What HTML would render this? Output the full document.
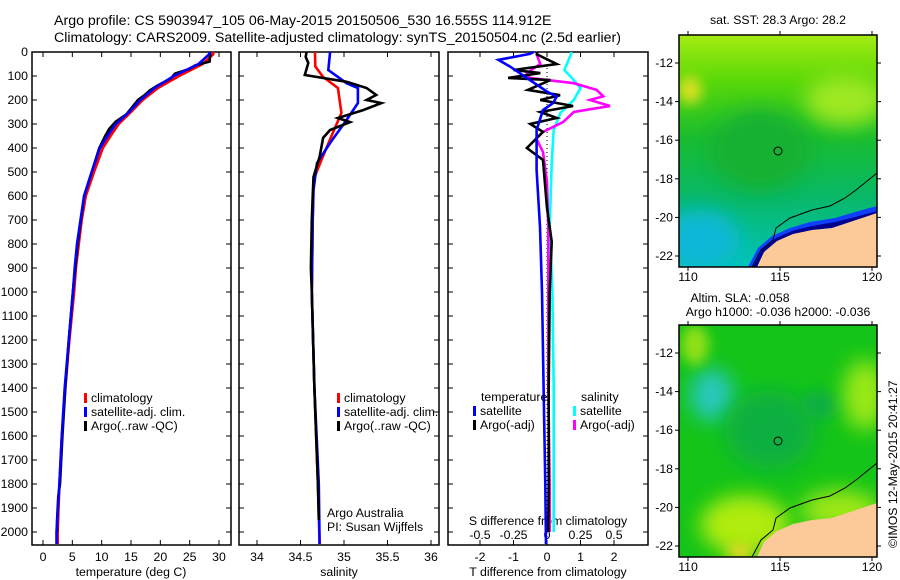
<!DOCTYPE html>
<html><head><meta charset="utf-8">
<style>
body{margin:0;background:#fff;}
svg{display:block;font-family:"Liberation Sans",sans-serif;}
text{font-size:12.3px;fill:#000;}
</style></head>
<body>
<svg id="fig" width="900" height="580" viewBox="0 0 900 580">
<defs>
<filter id="blur6" x="-50%" y="-50%" width="200%" height="200%"><feGaussianBlur stdDeviation="6"/></filter>
<filter id="blur10" x="-50%" y="-50%" width="200%" height="200%"><feGaussianBlur stdDeviation="10"/></filter>
<linearGradient id="sstg" x1="0" y1="0" x2="0" y2="1">
<stop offset="0" stop-color="#a6ec12"/><stop offset="0.2" stop-color="#58d808"/>
<stop offset="0.45" stop-color="#18bc30"/><stop offset="0.7" stop-color="#08b868"/>
<stop offset="1" stop-color="#00c4b8"/></linearGradient>
<clipPath id="clipm1"><rect x="679" y="35" width="198" height="232"/></clipPath>
<clipPath id="clipm2"><rect x="679" y="325" width="198" height="232"/></clipPath>
</defs>
<text x="54" y="25" style="font-size:14.2px">Argo profile: CS 5903947_105 06-May-2015 20150506_530 16.555S 114.912E</text>
<text x="54" y="42" style="font-size:14.2px">Climatology: CARS2009. Satellite-adjusted climatology: synTS_20150504.nc (2.5d earlier)</text>
<g id="p1"></g>
<g id="p2"></g>
<g id="p3"></g>
<g id="m1">
<g clip-path="url(#clipm1)">
<rect x="679" y="35" width="198" height="232" fill="url(#sstg)"/>
<ellipse cx="700" cy="240" rx="40" ry="30" fill="#10b8d8" filter="url(#blur10)"/>
<ellipse cx="845" cy="100" rx="40" ry="25" fill="#9ee820" filter="url(#blur10)"/>
<ellipse cx="690" cy="90" rx="12" ry="14" fill="#d8e020" filter="url(#blur6)"/>
<ellipse cx="760" cy="150" rx="50" ry="40" fill="#14b030" filter="url(#blur10)"/>
<polygon points="748,267 758,248 772,236 790,228 810,222 835,218 855,212 877,206 877,267" fill="#1040ff"/>
<polygon points="753,267 762,250 776,238 792,231 812,226 835,222 855,217 877,211 877,267" fill="#000090"/>
<polygon points="757,267 764,252 777,241 793,234 812,230 832,228 850,222 877,213 877,267" fill="#fcca98"/>
<polyline points="752,267 761,250 773,240 776,228 790,218 812,210 830,206 845,198 856,190 877,173" fill="none" stroke="#000" stroke-width="1"/>
<circle cx="778" cy="151" r="4" fill="none" stroke="#000" stroke-width="1"/>
</g>
<rect x="679" y="35" width="198" height="232" fill="none" stroke="#000" stroke-width="1.5"/>
<text x="778" y="24" text-anchor="middle">sat. SST: 28.3 Argo: 28.2</text>
</g>
<g id="m2">
<g clip-path="url(#clipm2)">
<rect x="679" y="325" width="198" height="232" fill="#14c418"/>
<ellipse cx="712" cy="395" rx="22" ry="26" fill="#28c8c0" filter="url(#blur10)"/>
<ellipse cx="770" cy="430" rx="45" ry="40" fill="#10b040" filter="url(#blur10)"/>
<ellipse cx="820" cy="405" rx="20" ry="15" fill="#10b040" filter="url(#blur6)"/>
<ellipse cx="865" cy="395" rx="22" ry="35" fill="#9ae818" filter="url(#blur10)"/>
<ellipse cx="695" cy="345" rx="14" ry="20" fill="#90e018" filter="url(#blur6)"/>
<ellipse cx="745" cy="525" rx="45" ry="30" fill="#b0ec10" filter="url(#blur10)"/>
<ellipse cx="740" cy="552" rx="14" ry="8" fill="#e8d820" filter="url(#blur6)"/>
<ellipse cx="840" cy="510" rx="40" ry="20" fill="#a0e818" filter="url(#blur10)"/>
<polygon points="757,557 764,542 777,531 793,524 812,520 832,518 850,512 877,503 877,557" fill="#fcca98"/>
<polyline points="752,557 761,540 773,530 776,518 790,508 812,500 830,496 845,488 856,480 877,463" fill="none" stroke="#000" stroke-width="1"/>
<circle cx="778" cy="441" r="4" fill="none" stroke="#000" stroke-width="1"/>
</g>
<rect x="679" y="325" width="198" height="232" fill="none" stroke="#000" stroke-width="1.5"/>
<text x="740" y="302" text-anchor="middle">Altim. SLA: -0.058</text>
<text x="778" y="316" text-anchor="middle">Argo h1000: -0.036 h2000: -0.036</text>
</g>
<text transform="translate(897,548) rotate(-90)">©IMOS 12-May-2015 20:41:27</text>
</svg>
<script>
var NS="http://www.w3.org/2000/svg";
// ---- data ----
var tDepthClim=[0,10,50,100,150,200,250,300,350,400,500,600,700,800,900,1000,1200,1400,1600,1800,2000,2050];
var tempClim=[29.1,29.0,27.2,23.2,19.6,17.0,15.0,12.9,11.5,10.2,8.7,7.3,6.6,6.1,5.6,5.3,4.5,3.8,3.2,2.8,2.5,2.5];
var tempSat=[28.4,28.3,26.5,22.3,19.0,16.6,14.7,12.4,11.0,9.7,8.3,7.0,6.4,5.8,5.4,5.1,4.4,3.7,3.2,2.8,2.3,2.3];
var tDepthArgo=[0,10,40,55,70,90,110,140,160,180,200,230,260,290,320,350,400,500,600,800,1000,1200,1400,1600,1800,1850,1950,2000];
var tempArgo=[28.5,28.5,28.4,26.0,25.0,22.5,21.8,19.5,18.2,17.3,16.2,15.2,14.2,12.4,11.3,10.6,9.6,8.3,7.0,5.9,5.1,4.4,3.8,3.3,2.9,2.6,2.4,2.4];
var sDepthClim=[0,60,104,150,254,338,450,533,700,1000,1400,1800,2050];
var salClim=[34.667,34.67,34.76,34.93,34.97,34.87,34.74,34.65,34.64,34.63,34.66,34.70,34.72];
var salSat=[34.84,34.82,35.03,35.16,35.16,35.03,34.84,34.69,34.65,34.64,34.63,34.66,34.71,34.72];
var sDepthSat=[0,75,130,150,213,283,379,463,575,700,1000,1400,1800,2050];
var sDepthArgo=[0,20,46,70,96,124,150,179,200,213,242,275,292,325,358,437,521,600,700,900,1000,1400,1800,1950];
var salArgo=[34.57,34.56,34.59,34.57,34.55,35.03,35.26,35.37,35.26,35.43,35.22,34.93,35.07,34.84,34.76,34.72,34.65,34.64,34.63,34.62,34.63,34.66,34.70,34.71];
var dDepthSatT=[0,8,33,61,117,165,186,213,242,325,408,492,728,1000,1400,1800,2050];
var dTSat=[-0.4,-0.51,-1.45,-1.1,-0.51,0,0.29,0.18,-0.12,-0.31,-0.31,-0.31,-0.21,-0.15,-0.1,-0.05,-0.03];
var dDepthArgo=[0,10,50,75,88,108,117,158,180,200,225,250,275,300,333,400,450,550,650,790,1000,1400,1800,2000];
var dTArgo=[-0.3,-0.3,0.29,-1.0,-0.2,-1.16,0.1,-0.57,0.39,-0.2,0.78,-0.2,0.29,-0.5,-0.12,-0.6,-0.12,-0.06,0,0.14,0.08,0.05,0.05,0.04];
var dDepthArgoS=[0,10,50,88,108,130,158,185,200,225,250,292,333,360,417,540,728,1000,1400,1800,2000];
var dSArgo=[-0.07,-0.077,-0.05,-0.15,-0.13,0.2,0.37,0.42,0.32,0.47,0.2,0.12,-0.03,-0.08,-0.03,0,0.01,0.01,0.01,0.02,0.02];
var dDepthSatS=[0,8,75,117,150,200,254,325,463,728,1000,1400,1800,2000];
var dSSat=[0.18,0.18,0.13,0.2,0.25,0.2,0.1,0.05,0.035,0.02,0.04,0.05,0.05,0.05];
var depthTicks=[0,100,200,300,400,500,600,700,800,900,1000,1100,1200,1300,1400,1500,1600,1700,1800,1900,2000];
var tempTicks=[0,5,10,15,20,25,30];
var salTicks=[34,34.5,35,35.5,36];
var dTTicks=[-2,-1,0,1,2];
var dSTicks=[-0.5,-0.25,0,0.25,0.5];
var lonTicks=[110,115,120];
var latTicks=[-12,-14,-16,-18,-20,-22];
// ---- axes ----
var PT=52,PB=545;
function yD(d){return 52+0.24*d;}
function xT(t){return 43+5.867*t;}
function xS(s){return 257+87*(s-34);}
function xdT(t){return 547+33.5*t;}
function xdS(s){return 547+134*s;}
function mapX(l){return 688+18.4*(l-110);}
function mapY(l,top){return top+28-19.3*(l+12);}
function mk(tag,attrs,parent){var e=document.createElementNS(NS,tag);for(var k in attrs)e.setAttribute(k,attrs[k]);parent.appendChild(e);return e;}
function txt(s,x,y,anchor,parent){var t=mk('text',{x:x,y:y,'text-anchor':anchor||'start'},parent);t.textContent=s;return t;}
function line(xs,ys,col,parent,name){
  var p=[];for(var i=0;i<xs.length;i++)p.push(xs[i].toFixed(1)+','+ys[i].toFixed(1));
  var e=mk('polyline',{points:p.join(' '),fill:'none',stroke:col,'stroke-width':2.6,'stroke-linejoin':'miter'},parent);
  
  
  return e;}
function frame(g,x0,x1,name){
  var r=mk('rect',{x:x0,y:PT,width:x1-x0,height:PB-PT,fill:'none',stroke:'#000','stroke-width':1.5},g);
  
  
  depthTicks.forEach(function(d){mk('line',{x1:x0,x2:x0+5,y1:yD(d),y2:yD(d),stroke:'#000'},g);mk('line',{x1:x1,x2:x1-5,y1:yD(d),y2:yD(d),stroke:'#000'},g);});
}
function xticks(g,ticks,fx,name){
  ticks.forEach(function(v){var x=fx(v);mk('line',{x1:x,x2:x,y1:PT,y2:PT+5,stroke:'#000'},g);mk('line',{x1:x,x2:x,y1:PB,y2:PB-5,stroke:'#000'},g);
  var t=txt(String(v),x,561,'middle',g);
  
  });
}
function legendEntry(g,x,y,col,label){
  if(col)mk('rect',{x:x,y:y-9,width:3,height:10,fill:col},g);
  var t=txt(label,x+(col?7:0),y,'start',g);
  t.setAttribute('font-size','13');
  
  
}
// panel 1
var g1=document.getElementById('p1');
frame(g1,32,231,'temperature-plot-frame');
depthTicks.forEach(function(d){var t=txt(String(d),28,yD(d)+4,'end',g1);
  
  });
xticks(g1,tempTicks,xT,'temperature-tick-label');
var xl=txt('temperature (deg C)',131,576,'middle',g1);


line(tempClim.map(xT),tDepthClim.map(yD),'#ff0000',g1,'temp-climatology-line');
line(tempArgo.map(xT),tDepthArgo.map(yD),'#000000',g1,'temp-argo-line');
line(tempSat.map(xT),tDepthClim.map(yD),'#0000ff',g1,'temp-satellite-line');
legendEntry(g1,84,402,'#ff0000','climatology');
legendEntry(g1,84,416,'#0000ff','satellite-adj. clim.');
legendEntry(g1,84,430,'#000000','Argo(..raw -QC)');
// panel 2
var g2=document.getElementById('p2');
frame(g2,239,439,'salinity-plot-frame');
xticks(g2,salTicks,xS,'salinity-tick-label');
var sl=txt('salinity',339,576,'middle',g2);


line(salClim.map(xS),sDepthClim.map(yD),'#ff0000',g2,'sal-climatology-line');
line(salSat.map(xS),sDepthSat.map(yD),'#0000ff',g2,'sal-satellite-line');
line(salArgo.map(xS),sDepthArgo.map(yD),'#000000',g2,'sal-argo-line');
legendEntry(g2,337,402,'#ff0000','climatology');
legendEntry(g2,337,416,'#0000ff','satellite-adj. clim.');
legendEntry(g2,337,430,'#000000','Argo(..raw -QC)');
var a1=txt('Argo Australia',327,517,'start',g2);


var a2=txt('PI: Susan Wijffels',327,531,'start',g2);


// panel 3
var g3=document.getElementById('p3');
frame(g3,448,648,'difference-plot-frame');
xticks(g3,dTTicks,xdT,'t-diff-tick-label');
dSTicks.forEach(function(v){var t=txt(String(v),xdS(v),539,'middle',g3);
  
  });
var dl=txt('T difference from climatology',548,576,'middle',g3);


var dl2=txt('S difference from climatology',548,525,'middle',g3);


mk('line',{x1:xdT(0),x2:xdT(0),y1:PT,y2:PB,stroke:'#000','stroke-dasharray':'1,3'},g3);
line(dSSat.map(xdS),dDepthSatS.map(yD),'#00ffff',g3,'sal-diff-satellite-line');
line(dSArgo.map(xdS),dDepthArgoS.map(yD),'#ff00ff',g3,'sal-diff-argo-line');
line(dTArgo.map(xdT),dDepthArgo.map(yD),'#000000',g3,'temp-diff-argo-line');
line(dTSat.map(xdT),dDepthSatT.map(yD),'#0000ff',g3,'temp-diff-satellite-line');
legendEntry(g3,481,401,null,'temperature');
legendEntry(g3,473,415,'#0000ff','satellite');
legendEntry(g3,473,429,'#000000','Argo(-adj)');
legendEntry(g3,581,401,null,'salinity');
legendEntry(g3,573,415,'#00ffff','satellite');
legendEntry(g3,573,429,'#ff00ff','Argo(-adj)');
// map ticks
[[document.getElementById('m1'),35,281],[document.getElementById('m2'),325,571]].forEach(function(m){
  var g=m[0],top=m[1],ly=m[2];
  lonTicks.forEach(function(l){var x=mapX(l);
    mk('line',{x1:x,x2:x,y1:top,y2:top-4,stroke:'#000'},g);
    mk('line',{x1:x,x2:x,y1:top+232,y2:top+236,stroke:'#000'},g);
    var t=txt(String(l),x,ly,'middle',g);
    
    });
  latTicks.forEach(function(l){var y=mapY(l,top);
    mk('line',{x1:679,x2:675,y1:y,y2:y,stroke:'#000'},g);
    mk('line',{x1:877,x2:881,y1:y,y2:y,stroke:'#000'},g);
    var t=txt(String(l),673,y+4,'end',g);
    
    });
});
</script>
</body></html>
